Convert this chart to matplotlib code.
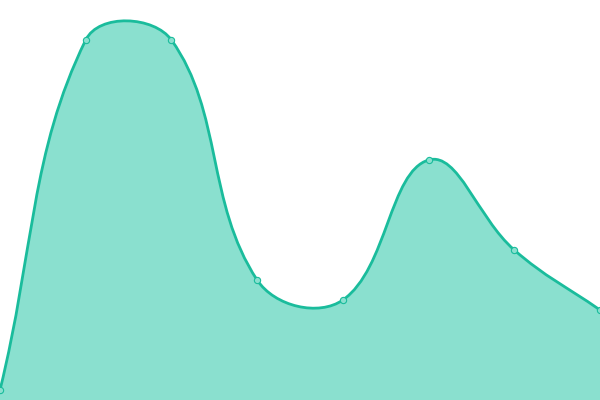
import numpy as np
import matplotlib
matplotlib.use('Agg')
import matplotlib.pyplot as plt
from matplotlib.path import Path
from matplotlib.patches import PathPatch

LINE_COLOR = '#1abc9c'
FILL_COLOR = '#8ae0cf'

x_values = [0, 1, 2, 3, 4, 5, 6, 7]
y_values = [1, 36, 36, 12, 10, 24, 15, 9]
y_max = 40
tension = 0.4


def spline_path(ax, xs, ys, t):
    # control points computed in pixel space, chart.js style
    pts = ax.transData.transform(np.column_stack([xs, ys]))
    n = len(pts)
    verts = [pts[0]]
    codes = [Path.MOVETO]
    cps = []
    for i in range(n):
        prev = pts[max(i - 1, 0)]
        cur = pts[i]
        nxt = pts[min(i + 1, n - 1)]
        d01 = np.hypot(*(cur - prev))
        d12 = np.hypot(*(nxt - cur))
        s01 = d01 / (d01 + d12) if d01 + d12 else 0
        s12 = d12 / (d01 + d12) if d01 + d12 else 0
        fa = t * s01
        fb = t * s12
        cps.append((cur - fa * (nxt - prev), cur + fb * (nxt - prev)))
    for i in range(1, n):
        verts += [cps[i - 1][1], cps[i][0], pts[i]]
        codes += [Path.CURVE4] * 3
    inv = ax.transData.inverted()
    return inv.transform(np.array(verts)), codes


fig = plt.figure(figsize=(6, 4), dpi=100)
ax = fig.add_axes([0, 0, 1, 1])
ax.set_xlim(x_values[0], x_values[-1])
ax.set_ylim(0, y_max)
ax.axis('off')

verts, codes = spline_path(ax, x_values, y_values, tension)

fill_verts = np.vstack([verts, [[x_values[-1], 0], [x_values[0], 0], verts[0]]])
fill_codes = codes + [Path.LINETO, Path.LINETO, Path.CLOSEPOLY]
ax.add_patch(PathPatch(Path(fill_verts, fill_codes), facecolor=FILL_COLOR,
                       edgecolor='none'))
ax.add_patch(PathPatch(Path(verts, codes), facecolor='none',
                       edgecolor=LINE_COLOR, lw=2.0))
ax.plot(x_values, y_values, 'o', ms=4.5, mfc=FILL_COLOR, mec=LINE_COLOR,
        mew=0.8, clip_on=False)

fig.savefig('out.png', dpi=100)
